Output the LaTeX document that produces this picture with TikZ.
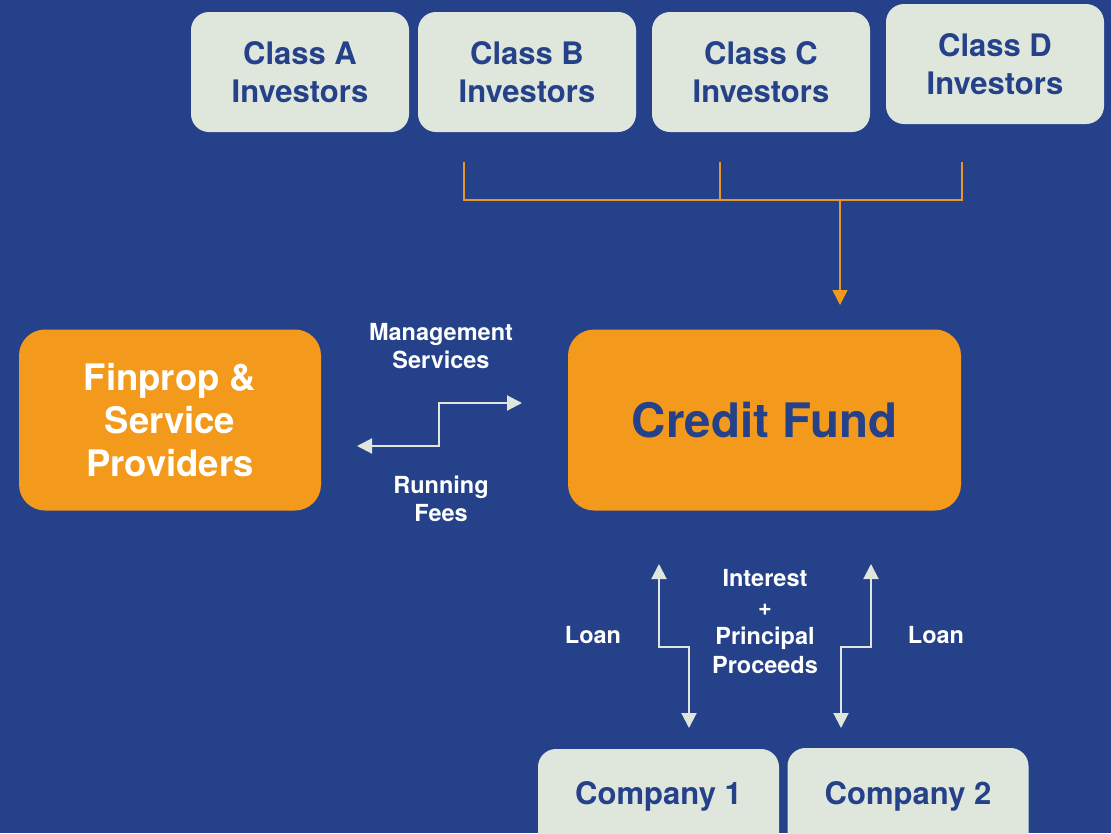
\documentclass[tikz,border=0pt]{standalone}
\usepackage{fontspec}
\setmainfont{TeX Gyre Heros}
\usetikzlibrary{arrows.meta}
\definecolor{bgblue}{HTML}{24418A}
\definecolor{forange}{HTML}{F39A1C}
\definecolor{lightbox}{HTML}{DFE7DC}
\definecolor{lineorange}{HTML}{E8962A}
\definecolor{linewhite}{HTML}{DFE7DC}
\tikzset{
  classbox/.style={fill=lightbox, rounded corners=18pt, minimum width=218pt, minimum height=120pt, inner sep=0pt, align=center, text=bgblue, font=\bfseries\fontsize{31}{38}\selectfont},
  companybox/.style={fill=lightbox, rounded corners=18pt, minimum width=241pt, minimum height=120pt, inner sep=0pt, text=bgblue, font=\bfseries\fontsize{31}{38}\selectfont},
  bigbox/.style={fill=forange, rounded corners=26pt, minimum height=181pt, inner sep=0pt, align=center},
  flowlabel/.style={text=white, align=center, inner sep=0pt, font=\bfseries\fontsize{23.5}{28.5}\selectfont},
  orangeline/.style={draw=lineorange, line width=1.5pt},
  wtip/.tip={Triangle[length=15pt,width=15pt,fill=linewhite]},
  otip/.tip={Triangle[length=15pt,width=15pt,fill=forange,color=forange]},
  whitearrow/.style={draw=linewhite, line width=2pt, wtip-wtip},
}
\begin{document}
\begin{tikzpicture}[x=1pt,y=-1pt]
\fill[bgblue] (0,0) rectangle (1111,833);
\useasboundingbox (0,0) rectangle (1111,833);
\clip (0,0) rectangle (1111,833);

% investor boxes
\node[classbox] (ca) at (300,72) {Class A\\Investors};
\node[classbox] (cb) at (527,72) {Class B\\Investors};
\node[classbox] (cc) at (761,72) {Class C\\Investors};
\node[classbox] (cd) at (995,64) {Class D\\Investors};

% main boxes
\node[bigbox, minimum width=302pt, text=white, font=\bfseries\fontsize{36.5}{43}\selectfont] (fp) at (170,420) {Finprop \&\\Service\\Providers};
\node[bigbox, minimum width=393pt, text=bgblue, font=\bfseries\fontsize{47.5}{57}\selectfont] (cf) at (764.5,420) {Credit Fund};

% companies
\node[companybox] (c1) at (658.5,809) {};
\node[companybox] (c2) at (908,808) {};
\node[text=bgblue, font=\bfseries\fontsize{31}{38}\selectfont, inner sep=0pt] (c1t) at (658.5,796) {Company 1};
\node[text=bgblue, font=\bfseries\fontsize{31}{38}\selectfont, inner sep=0pt] (c2t) at (908,796) {Company 2};

% orange bracket
\coordinate (b1) at (464,162);
\coordinate (b2) at (720,162);
\coordinate (b3) at (962,162);
\coordinate (bj) at (840,200);
\coordinate (btip) at (840,305);
\draw[orangeline] (b1) -- (b1 |- bj) -- (b3 |- bj) -- (b3);
\draw[orangeline] (b2) -- (b2 |- bj);
\draw[orangeline, -otip] (bj) -- (btip);

% management services / running fees arrow
\coordinate (msR) at (522,403);
\coordinate (msL) at (357,446);
\draw[whitearrow] (msL) -- (439,446) -- (439,403) -- (msR);
\node[flowlabel] (ms) at (441,346) {Management\\Services};
\node[flowlabel] (rf) at (441,499) {Running\\Fees};

% loan arrows
\coordinate (l1u) at (659,564);
\coordinate (l1d) at (689,728);
\coordinate (l2u) at (871,564);
\coordinate (l2d) at (841,728);
\draw[whitearrow] (l1u) -- (659,647) -- (689,647) -- (l1d);
\draw[whitearrow] (l2u) -- (871,647) -- (841,647) -- (l2d);

\node[flowlabel] (loan1) at (593,635) {Loan};
\node[flowlabel] (loan2) at (936,635) {Loan};
\node[flowlabel, font=\bfseries\fontsize{23.5}{29}\selectfont] (ipp) at (765,622) {Interest\\+\\Principal\\Proceeds};
\end{tikzpicture}
\end{document}
